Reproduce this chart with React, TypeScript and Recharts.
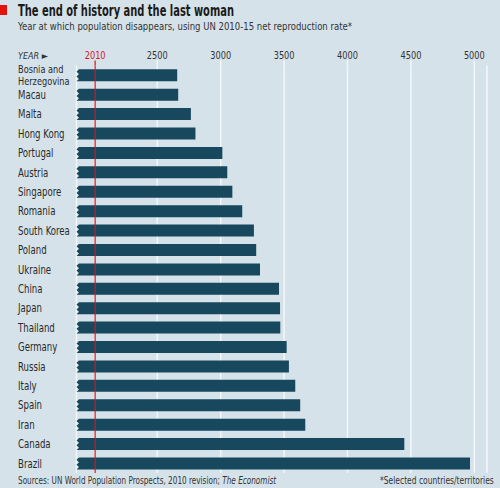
import { BarChart, Bar, XAxis, YAxis, CartesianGrid, ReferenceLine } from 'recharts';

// Countries, top to bottom
const countries = [
  'Bosnia and Herzegovina',
  'Macau',
  'Malta',
  'Hong Kong',
  'Portugal',
  'Austria',
  'Singapore',
  'Romania',
  'South Korea',
  'Poland',
  'Ukraine',
  'China',
  'Japan',
  'Thailand',
  'Germany',
  'Russia',
  'Italy',
  'Spain',
  'Iran',
  'Canada',
  'Brazil',
];

// Year at which population disappears
const years = [
  2657, 2665, 2765, 2801, 3013, 3052, 3092, 3170, 3262, 3280, 3310,
  3460, 3468, 3470, 3520, 3538, 3588, 3627, 3667, 4448, 4966,
];

const yearTicks = [2010, 2500, 3000, 3500, 4000, 4500, 5000];
const baseYear = 2010;

const data = countries.map((name, i) => ({ name, year: years[i] }));

const FONT = "'DejaVu Sans Condensed', 'DejaVu Sans', sans-serif";
const NARROW = 0.83; // squeeze to mimic the condensed house font
const BG = '#d5e2e9';
const BAR = '#17485d';
const RED = '#d8141c';
const GRID = '#f3f7f9';
const TEXT = '#333';

// bar with a zigzag "broken axis" left edge
function BrokenBar(props: any) {
  const { x, y, width, height, fill } = props;
  if (width <= 0) return null;
  const a = 2.5;
  const d = [
    `M${x + width},${y}`,
    `L${x + width},${y + height}`,
    `L${x},${y + height}`,
    `L${x + a},${y + height * 0.8}`,
    `L${x},${y + height * 0.6}`,
    `L${x + a},${y + height * 0.4}`,
    `L${x},${y + height * 0.2}`,
    `L${x + a},${y}`,
    'Z',
  ].join(' ');
  return <path d={d} fill={fill} />;
}

function YearTick(props: any) {
  const { x, y, payload } = props;
  const isBase = payload.value === baseYear;
  const color = isBase ? RED : TEXT;
  return (
    <g>
      <line x1={x} x2={x} y1={y - 5} y2={y} stroke={isBase ? RED : GRID} strokeWidth={isBase ? 1.2 : 1.5} />
      <g transform={`translate(${x},${y - 6.5}) scale(${NARROW},1)`}>
        <text x={0} y={0} textAnchor="middle" fill={color} fontSize={11} fontFamily={FONT}>
          {payload.value}
        </text>
      </g>
    </g>
  );
}

function CountryTick(props: any) {
  const { y, payload } = props;
  const name: string = payload.value;
  const words = name.split(' ');
  const lines = name.length > 15 ? [words.slice(0, 2).join(' '), words.slice(2).join(' ')] : [name];
  const lh = 12;
  const start = -((lines.length - 1) * lh) / 2;
  return (
    <g transform={`translate(18,${y}) scale(${NARROW},1)`}>
      {lines.map((l, i) => (
        <text
          key={i}
          x={0}
          y={start + i * lh}
          textAnchor="start"
          dominantBaseline="central"
          fill="#2a2a2a"
          fontSize={lines.length > 1 ? 11 : 11.5}
          fontFamily={FONT}
        >
          {l}
        </text>
      ))}
    </g>
  );
}

const squeeze = (k: number) => ({ transform: `scaleX(${k})`, transformOrigin: 'left top' });

export default function App() {
  return (
    <div
      style={{
        position: 'absolute',
        top: 0,
        left: 0,
        width: 500,
        height: 488,
        background: BG,
        fontFamily: FONT,
        overflow: 'hidden',
      }}
    >
      <BarChart
        width={500}
        height={488}
        data={data}
        layout="vertical"
        margin={{ top: 35, right: 13, bottom: 15, left: 0 }}
        barCategoryGap="20%"
      >
        <CartesianGrid horizontal={false} stroke={GRID} strokeWidth={1.5} />
        <XAxis
          type="number"
          orientation="top"
          domain={[1863, 5100]}
          ticks={yearTicks}
          interval={0}
          height={30.4}
          axisLine={false}
          tickLine={false}
          tickSize={0}
          tickMargin={0}
          tick={<YearTick />}
        />
        <YAxis
          type="category"
          dataKey="name"
          width={76.5}
          interval={0}
          axisLine={false}
          tickLine={false}
          tick={<CountryTick />}
        />
        <Bar dataKey="year" fill={BAR} shape={<BrokenBar />} isAnimationActive={false} />
        <ReferenceLine x={baseYear} stroke={RED} strokeWidth={1.2} />
      </BarChart>
      {/* headline, subtitle and axis cue */}
      <svg width={500} height={62} style={{ position: 'absolute', left: 0, top: 0, pointerEvents: 'none' }} fontFamily={FONT}>
        <rect x={0} y={5} width={7} height={10} fill="#e3120b" />
        <text x={18} y={15.5} fontSize={15} fontWeight={700} fill="#1a1a1a" textLength={216} lengthAdjust="spacingAndGlyphs">
          The end of history and the last woman
        </text>
        <text x={18} y={29.5} fontSize={11} fill={TEXT} textLength={334} lengthAdjust="spacingAndGlyphs">
          Year at which population disappears, using UN 2010-15 net reproduction rate*
        </text>
        <text x={18} y={58.5} fontSize={9.5} fontStyle="italic" fill={TEXT} textLength={30} lengthAdjust="spacingAndGlyphs">
          YEAR ►
        </text>
      </svg>
      <div style={{ position: 'absolute', left: 18, top: 475, fontSize: 10, color: TEXT, whiteSpace: 'nowrap', ...squeeze(0.81) }}>
        Sources: UN World Population Prospects, 2010 revision; <i>The Economist</i>
      </div>
      <div style={{ position: 'absolute', left: 380, top: 475, fontSize: 10, color: TEXT, whiteSpace: 'nowrap', ...squeeze(0.84) }}>
        *Selected countries/territories
      </div>
    </div>
  );
}
